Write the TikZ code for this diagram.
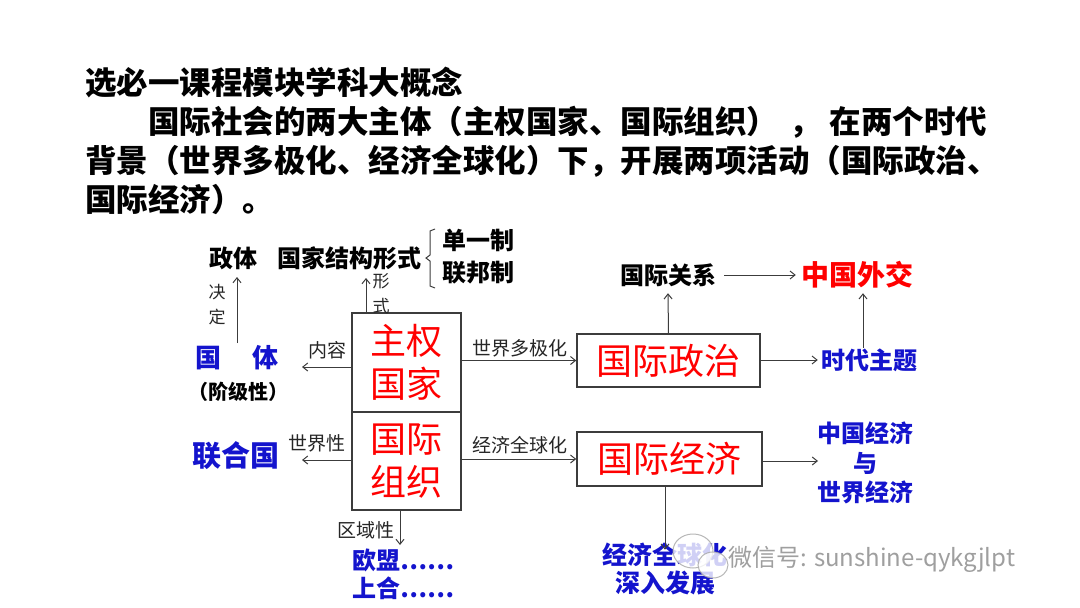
\documentclass[tikz,border=0pt]{standalone}
\usepackage{fontspec}
\usetikzlibrary{arrows.meta}
\newfontfamily\cjk{Noto Sans CJK SC}
\definecolor{cred}{RGB}{255,0,0}
\definecolor{cblue}{RGB}{20,20,205}
\definecolor{cline}{RGB}{60,60,60}
\tikzset{
  head/.style={inner sep=0pt, text height=27.7pt, text depth=3.8pt, anchor=west, font=\cjk\bfseries\fontsize{31.5}{31.5}\selectfont},
  blk/.style={inner sep=0pt, text height=21.1pt, text depth=2.9pt, font=\cjk\bfseries\fontsize{24}{24}\selectfont, text=black},
  small/.style={inner sep=0pt, text height=16.7pt, text depth=2.3pt, font=\cjk\fontsize{19}{19}\selectfont, text=black!85},
  vsmall/.style={inner sep=0pt, align=center, font=\cjk\fontsize{17}{25}\selectfont, text=black!85},
  blu/.style={inner sep=0pt, text height=21.1pt, text depth=2.9pt, font=\cjk\bfseries\fontsize{24}{24}\selectfont, text=cblue},
  bigbox/.style={draw=cline, line width=1.5pt, inner sep=0pt, align=center, text=cred,
     font=\cjk\fontsize{36}{43}\selectfont},
  arr/.style={draw=cline, line width=1pt, -{Straight Barb[length=5pt,width=8pt]}},
}
\begin{document}
\begin{tikzpicture}[x=1pt,y=-1pt]
\useasboundingbox (0,0) rectangle (1080,608);
\fill[white] (0,0) rectangle (1080,608);
% heading
\node[head] (h1) at (85,83) {选必一课程模块学科大概念};
\node[head] (h2) at (148,122) {国际社会的两大主体（主权国家、国际组织）\hspace{11pt}，\hspace{9pt}在两个时代};
\node[head] (h3) at (85,161) {背景（世界多极化、经济全球化）下，开展两项活动（国际政治、};
\node[head] (h4) at (85,200) {国际经济）。};
% central boxes
\node[bigbox, minimum width=109pt, minimum height=99pt] (zq) at (406.5,362.5) {主权\\国家};
\node[bigbox, minimum width=109pt, minimum height=98pt] (zz) at (406.5,461) {国际\\组织};
% right boxes
\node[bigbox, minimum width=183pt, minimum height=53pt] (gjzz) at (668.5,360.5) {国际政治};
\node[bigbox, minimum width=185pt, minimum height=54pt] (gjjj) at (669.5,459) {国际经济};
% top left
\node[blk] (zt) at (233.5,258) {政体};
\node[blk, anchor=west] (jg) at (277,258) {国家结构形式};
\node[blk, anchor=west] (dy) at (442,240) {单一制};
\node[blk, anchor=west] (lb) at (442,272) {联邦制};
\draw[cline, line width=1pt] (435,229) -- (430,231) -- (430,255) -- (426,258) -- (430,261) -- (430,286) -- (435,288);
\node[vsmall] (jd) at (217,305) {决\\定};
\node[vsmall] (xs) at (381,294) {形\\式};
% left
\node[inner sep=0pt, text height=22.9pt, text depth=3.1pt, font=\cjk\bfseries\fontsize{26}{26}\selectfont, text=cblue, anchor=west] (gt) at (195,358) {国\hspace{31pt}体};
\node[inner sep=0pt, text height=17.6pt, text depth=2.4pt, font=\cjk\bfseries\fontsize{20}{20}\selectfont, text=black] (jjx) at (238,392) {（阶级性）};
\node[small] (nr) at (327,350) {内容};
\node[small] (sjx) at (317,443) {世界性};
\node[inner sep=0pt, text height=25.5pt, text depth=3.5pt, font=\cjk\bfseries\fontsize{29}{29}\selectfont, text=cblue] (lhg) at (236,455) {联合国};
% bottom
\node[small] (qyx) at (366,530) {区域性};
\node[blu, anchor=west] (om) at (352,560) {欧盟……};
\node[blu, anchor=west] (sh) at (352,588) {上合……};
% middle labels
\node[small] (dj) at (520,348) {世界多极化};
\node[small] (qq) at (520,445) {经济全球化};
% right side
\node[blk] (gx) at (668,275) {国际关系};
\node[inner sep=0pt, text height=24.6pt, text depth=3.4pt, font=\cjk\bfseries\fontsize{28}{28}\selectfont, text=cred] (wj) at (857,275) {中国外交};
\node[blu] (sd) at (869,360) {时代主题};
\node[inner sep=0pt, align=center, font=\cjk\bfseries\fontsize{24}{29.5}\selectfont, text=cblue] (zgjj) at (865,463) {中国经济\\与\\世界经济};
\node[inner sep=0pt, align=center, font=\cjk\bfseries\fontsize{25}{28}\selectfont, text=cblue] (sr) at (665,569) {经济全球化\\深入发展};
% connectors
\coordinate (t1) at (302,367);
\draw[arr] (zq.west |- t1) -- (t1);
\coordinate (t2) at (302,460);
\draw[arr] (zz.west |- t2) -- (t2);
\coordinate (t3) at (400,545);
\draw[arr] (zz.south -| t3) -- (t3);
\coordinate (t4) at (366,278);
\draw[arr] (zq.north -| t4) -- (t4);
\coordinate (b5) at (237,343);
\coordinate (t5) at (237,277);
\draw[arr] (b5) -- (t5);
\draw[arr] (zq.east |- gjzz) -- (gjzz.west);
\draw[arr] (zz.east |- gjjj) -- (gjjj.west);
\draw[arr] (gjzz.north) -- ([yshift=-6pt]gx.south);
\draw[arr] ([xshift=8pt]gx.east) -- ([xshift=-5pt]wj.west);
\draw[arr] (gjzz.east |- sd) -- ([xshift=-3pt]sd.west);
\draw[arr] (sd.north -| 863,0) -- ([yshift=-4pt]wj.south -| 863,0);
\draw[arr] (gjjj.east |- 0,461) -- (818,461);
\draw[arr] (gjjj.south -| 665,0) -- ([yshift=-7pt]sr.north);
% watermark
\begin{scope}[opacity=0.8]
\draw[gray!70, fill=white, line width=1pt] (693,551) ellipse (20pt and 17pt);
\draw[gray!70, fill=white, line width=1pt] (713,565) ellipse (15pt and 13pt);
\end{scope}
\node[inner sep=0pt, text height=21.1pt, text depth=2.9pt, anchor=west, font=\cjk\fontsize{24}{24}\selectfont, text=gray!75] (wm) at (728,557) {微信号: sunshine-qykgjlpt};
\end{tikzpicture}
\end{document}
